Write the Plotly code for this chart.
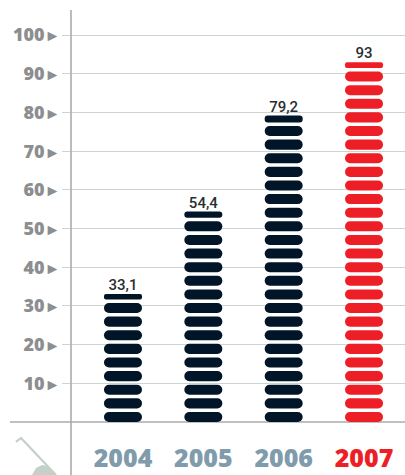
import plotly.graph_objects as go

# Chart data
categories = ["2004", "2005", "2006", "2007"]
values = [33.1, 54.4, 79.2, 93]
value_labels = ["33,1", "54,4", "79,2", "93"]
y_ticks = [10, 20, 30, 40, 50, 60, 70, 80, 90, 100]

# Colours
NAVY = "#001528"
RED = "#EE1E26"
STEEL = "#7F9BAC"
GRID = "#CBD5D0"
AXIS = "#A9ACAC"
TICK_TEXT = "#8C8E90"
ICON = "#C5D0C8"

# Each column is a stack of rounded pills, cut off at the column's value
PILL_PITCH = 3.52
PILL_HEIGHT = 2.6
BAR_WIDTH = 0.473

pill_x, pill_bottom, pill_size, pill_color = [], [], [], []
for cat, val in zip(categories, values):
    color = RED if cat == "2007" else NAVY
    bottom = 0.0
    while bottom < val:
        pill_x.append(cat)
        pill_bottom.append(bottom)
        pill_size.append(min(PILL_HEIGHT, val - bottom))
        pill_color.append(color)
        bottom += PILL_PITCH

fig = go.Figure()
fig.add_trace(go.Bar(x=pill_x, base=pill_bottom, y=pill_size, width=BAR_WIDTH,
                     marker=dict(color=pill_color, line_width=0), hoverinfo="skip"))
fig.add_trace(go.Scatter(x=categories, y=values, mode="text", text=value_labels,
                         textposition="top center", hoverinfo="skip",
                         textfont=dict(family="Roboto", size=15, weight=500, color="#2A2E33")))

W, H = 405, 475
L, T, B = 71, 10, 53
plot_w, plot_h = W - L, H - T - B


def px(x):
    return (x - L) / plot_w


def py(y):
    return (H - B - y) / plot_h


def path(points, close=False):
    body = " L ".join(f"{px(x):.4f},{py(y):.4f}" for x, y in points)
    return "M " + body + (" Z" if close else "")


shapes = [
    # Vertical axis running past the plot area
    dict(type="line", xref="paper", yref="paper", x0=0, x1=0, y0=py(475), y1=py(10),
         line=dict(color=AXIS, width=1.6), layer="above"),
    # Baseline reaching out to the left
    dict(type="line", xref="paper", yref="paper", x0=px(10), x1=1, y0=0, y1=0,
         line=dict(color=AXIS, width=1.4), layer="below"),
    # Small lever emblem in the corner
    dict(type="path", xref="paper", yref="paper", layer="above",
         path=path([(16, 442), (21, 438), (56, 475)]),
         line=dict(color=ICON, width=2.2)),
    dict(type="path", xref="paper", yref="paper", layer="above",
         path=path([(32, 475), (36, 468), (42, 465), (48, 466), (55, 473), (56, 475)], close=True),
         fillcolor=ICON, line_width=0),
]

arrow = '<span style="font-size:16px">►</span>'
x_ticktext = [f'<span style="color:{RED if c == "2007" else STEEL}">{c}</span>' for c in categories]

fig.update_layout(
    width=W, height=H, autosize=False,
    margin=dict(l=L, r=0, t=T, b=B, pad=0),
    paper_bgcolor="white", plot_bgcolor="white",
    showlegend=False, barmode="overlay", barcornerradius=5,
    shapes=shapes,
    xaxis=dict(type="category", categoryorder="array", categoryarray=categories,
               range=[-0.647, 3.51], tickmode="array", tickvals=categories, ticktext=x_ticktext,
               ticks="", showgrid=False, zeroline=False, showline=False, ticklabelstandoff=19,
               tickfont=dict(family="Open Sans", size=25, weight=800, color=STEEL)),
    yaxis=dict(range=[0, 106.5], tickmode="array", tickvals=y_ticks,
               ticktext=[f"{t}{arrow}" for t in y_ticks],
               showgrid=True, gridcolor=GRID, gridwidth=1.4, zeroline=False, showline=False,
               ticks="outside", ticklen=8, tickcolor=GRID, tickwidth=1.4, ticklabelstandoff=-2,
               tickfont=dict(family="Open Sans", size=18, weight=800, color=TICK_TEXT)),
)

fig.write_html("out.html", config=dict(displayModeBar=False))
